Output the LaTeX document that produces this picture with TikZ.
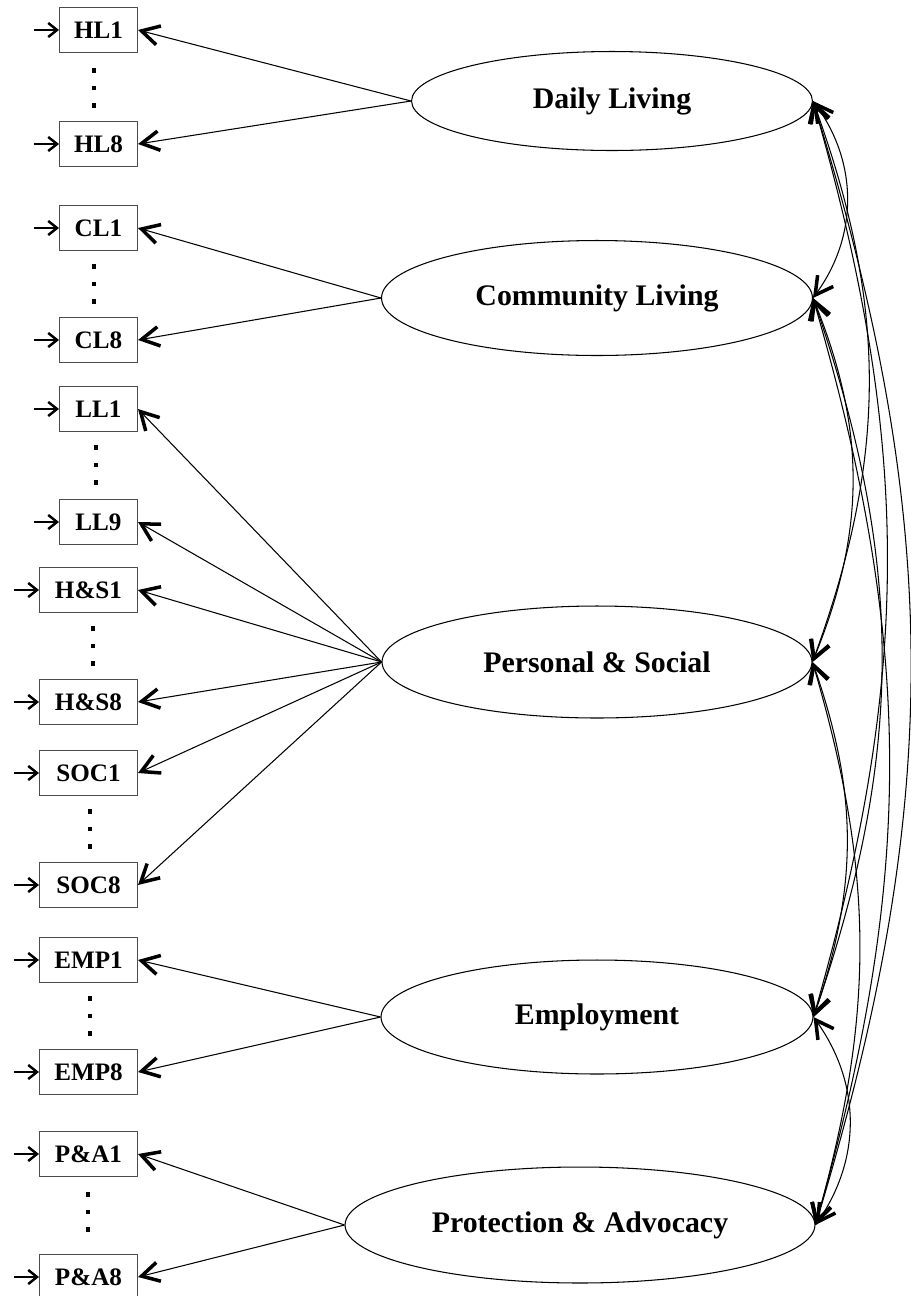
\documentclass[tikz,border=0pt]{standalone}
\usepackage{fontspec}
\setmainfont{Liberation Serif}
\usetikzlibrary{arrows.meta,shapes.geometric,calc}
\tikzset{
  ind/.style={draw=black!70,line width=0.6pt,minimum width=1.56cm,minimum height=0.9cm,inner sep=2pt,anchor=east,font=\fontsize{14.3}{17}\selectfont\bfseries},
  fac/.style={ellipse,draw,line width=0.6pt,inner sep=0pt,font=\fontsize{17}{20}\selectfont\bfseries},
  vd/.style={fill,inner sep=0pt,minimum size=0.09cm},
  arr/.style={-{Straight Barb[length=10pt,width=11pt,line width=2pt]},line width=0.6pt},
  earr/.style={-{Straight Barb[length=5pt,width=8pt,line width=1.4pt]},line width=0.6pt},
  carr/.style={{Straight Barb[length=10pt,width=11pt,line width=2pt]}-{Straight Barb[length=10pt,width=11pt,line width=2pt]},line width=0.6pt},
}
\begin{document}
\begin{tikzpicture}[x=0.02cm,y=-0.02cm]
  \useasboundingbox (0,0) rectangle (911,1296);
  % indicators
  \foreach \nm/\txt/\y in {hl1/HL1/30,hl8/HL8/144,cl1/CL1/228,cl8/CL8/340,ll1/LL1/409,ll9/LL9/522}
    \node[ind] (\nm) at (138,\y) {\txt};
  \foreach \nm/\txt/\y in {hs1/H\&S1/590,hs8/H\&S8/702,soc1/SOC1/773,soc8/SOC8/885,emp1/EMP1/960,emp8/EMP8/1072,pa1/P\&A1/1154,pa8/P\&A8/1277}
    \node[ind,minimum width=1.96cm] (\nm) at (138,\y) {\txt};
  \foreach \nm in {hl1,hl8,cl1,cl8,ll1,ll9,hs1,hs8,soc1,soc8,emp1,emp8,pa1,pa8} {
    \coordinate (e\nm) at ($(\nm.west)+(-25,0)$);
    \draw[earr] (e\nm) -- (\nm);
  }
  % vertical dots
  \foreach \nm/\x/\y in {dhl/94/88,dcl/94/284,dll/96/465,dhs/93/646,dsoc/90/829,demp/90/1016,dpa/88/1212}
    \foreach \i/\dy in {1/-17.5,2/0,3/17.5}
      \node[vd] (\nm\i) at (\x,\y+\dy) {};
  % factors
  \node[fac,minimum width=8.02cm,minimum height=1.98cm] (dl) at (612,101) {Daily Living};
  \node[fac,minimum width=8.62cm,minimum height=2.3cm] (cl) at (597,298) {Community Living};
  \node[fac,minimum width=8.6cm,minimum height=2.24cm] (ps) at (597,662) {Personal \& Social};
  \node[fac,minimum width=8.64cm,minimum height=2.28cm] (emp) at (597,1017) {Employment};
  \node[fac,minimum width=9.4cm,minimum height=2.32cm] (pa) at (580,1225) {Protection \& Advocacy};
  % loadings
  \foreach \f/\a/\b in {dl/hl1/hl8,cl/cl1/cl8,emp/emp1/emp8,pa/pa1/pa8} {
    \draw[arr] (\f.west) -- (\a.east); \draw[arr] (\f.west) -- (\b.east);
  }
  \foreach \a in {ll1,ll9,hs1,hs8,soc1,soc8}
    \draw[arr] (ps.west) -- (\a.east);
  % covariances
  \draw[carr] (dl.east) to[bend left=36] (cl.east);
  \draw[carr] (dl.east) to[bend left=20] (ps.east);
  \draw[carr] (dl.east) to[bend left=16] (emp.east);
  \draw[carr] (dl.east) to[bend left=17] (pa.east);
  \draw[carr] (cl.east) to[bend left=22] (ps.east);
  \draw[carr] (cl.east) to[bend left=19] (emp.east);
  \draw[carr] (cl.east) to[bend left=16] (pa.east);
  \draw[carr] (ps.east) to[bend left=19] (emp.east);
  \draw[carr] (ps.east) to[bend left=16] (pa.east);
  \draw[carr] (emp.east) to[bend left=35] (pa.east);
\end{tikzpicture}
\end{document}
